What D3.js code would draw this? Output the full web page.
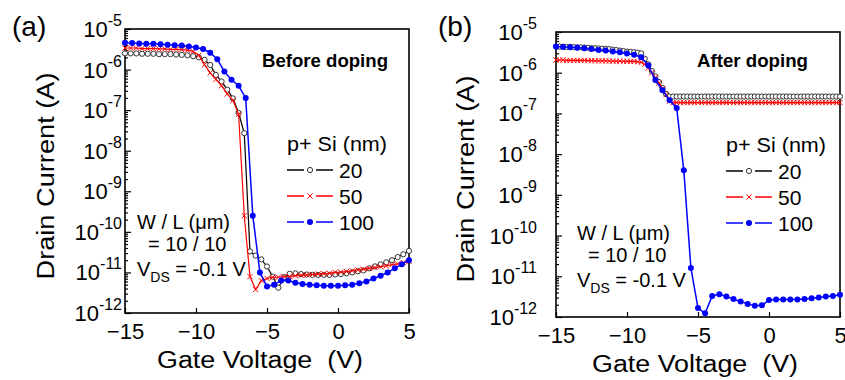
<!DOCTYPE html>
<html>
<head>
<meta charset="utf-8">
<script src="https://cdn.jsdelivr.net/npm/d3@7"></script>
<style>
  body { margin: 0; background: #fff; }
  svg { font-family: Arial, "Liberation Sans", sans-serif; }
</style>
</head>
<body>
<svg id="chart" width="845" height="380"></svg>
<script>
// gate voltage sweeps (V)
const vgFine = d3.range(-15, 5.001, 0.25);
const vgMid = d3.range(-15, 5.001, 0.4);
const vgCoarse = d3.range(-15, 5.001, 0.5);

const xTicks = [-15, -10, -5, 0, 5];
const yDecades = [1e-12, 1e-11, 1e-10, 1e-9, 1e-8, 1e-7, 1e-6, 1e-5];
const yTickExp = ['-12', '-11', '-10', '-9', '-8', '-7', '-6', '-5'];
const legendLabels = ['20', '50', '100'];

// (a) before doping, drain current (A)
const beforeI20 = [
  2.5e-6, 2.5e-6, 2.5e-6, 2.45e-6, 2.45e-6, 2.45e-6, 2.4e-6, 2.4e-6, 2.4e-6, 2.35e-6,
  2.3e-6, 2.24e-6, 2.14e-6, 2.0e-6, 1.74e-6, 1.3e-6, 7.4e-7, 5.1e-7, 3.2e-7, 1.95e-7,
  8.5e-8, 2.7e-8, 3.3e-11, 2.6e-11, 2.1e-11, 1.4e-11, 7.9e-12, 4.2e-12, 7.6e-12, 9.3e-12,
  9.5e-12, 9.1e-12, 8.9e-12, 8.7e-12, 8.7e-12, 8.7e-12, 8.7e-12, 8.9e-12, 9.1e-12, 9.5e-12,
  1.0e-11, 1.07e-11, 1.12e-11, 1.26e-11, 1.41e-11, 1.58e-11, 1.78e-11, 2.0e-11, 2.4e-11, 2.8e-11,
  3.4e-11
];
const beforeI50 = [
  3.4e-6, 3.4e-6, 3.4e-6, 3.3e-6, 3.3e-6, 3.3e-6, 3.24e-6, 3.24e-6, 3.16e-6, 3.16e-6,
  3.1e-6, 3.0e-6, 2.8e-6, 2.24e-6, 1.32e-6, 8.3e-7, 5.75e-7, 4.0e-7, 2.5e-7, 1.74e-7,
  7.9e-8, 2.5e-10, 7.9e-12, 3.8e-12, 6.3e-12, 7.1e-12, 7.6e-12, 7.6e-12, 7.9e-12, 7.9e-12,
  8.3e-12, 8.5e-12, 8.7e-12, 8.9e-12, 9.1e-12, 9.3e-12, 9.5e-12, 1.0e-11, 1.02e-11, 1.05e-11,
  1.1e-11, 1.15e-11, 1.2e-11, 1.26e-11, 1.32e-11, 1.38e-11, 1.45e-11, 1.55e-11, 1.62e-11, 1.74e-11,
  1.86e-11
];
const beforeI100 = [
  4.6e-6, 4.5e-6, 4.4e-6, 4.3e-6, 4.3e-6, 4.2e-6, 4.1e-6, 4.0e-6, 3.9e-6, 3.7e-6,
  3.5e-6, 3.2e-6, 2.6e-6, 1.8e-6, 8.9e-7, 5.6e-7, 4.0e-7, 2.0e-7, 2.5e-10, 1.0e-11,
  4.5e-12, 5.0e-12, 6.3e-12, 6.3e-12, 5.6e-12, 5.2e-12, 5.0e-12, 4.8e-12, 4.7e-12, 4.7e-12,
  4.7e-12, 4.8e-12, 5.0e-12, 5.4e-12, 6.0e-12, 7.1e-12, 8.3e-12, 1.0e-11, 1.26e-11, 1.6e-11,
  2.0e-11
];

// (b) after doping, drain current (A)
const afterI20 = [
  4.4e-6, 4.4e-6, 4.35e-6, 4.3e-6, 4.3e-6, 4.25e-6, 4.2e-6, 4.2e-6, 4.15e-6, 4.1e-6,
  4.0e-6, 4.0e-6, 3.95e-6, 3.9e-6, 3.85e-6, 3.8e-6, 3.7e-6, 3.6e-6, 3.5e-6, 3.4e-6,
  3.3e-6, 3.25e-6, 3.2e-6, 3.1e-6, 3.0e-6, 2.2e-6, 1.6e-6, 1.1e-6, 8.1e-7, 5.9e-7,
  4.2e-7, 3.0e-7, 2.6e-7, 2.6e-7, 2.6e-7, 2.6e-7, 2.6e-7, 2.6e-7, 2.6e-7, 2.6e-7,
  2.6e-7, 2.6e-7, 2.6e-7, 2.6e-7, 2.6e-7, 2.6e-7, 2.6e-7, 2.6e-7, 2.6e-7, 2.6e-7,
  2.6e-7, 2.6e-7, 2.6e-7, 2.6e-7, 2.6e-7, 2.6e-7, 2.6e-7, 2.6e-7, 2.6e-7, 2.6e-7,
  2.6e-7, 2.6e-7, 2.6e-7, 2.6e-7, 2.6e-7, 2.6e-7, 2.6e-7, 2.6e-7, 2.6e-7, 2.6e-7,
  2.6e-7, 2.6e-7, 2.6e-7, 2.6e-7, 2.6e-7, 2.6e-7, 2.6e-7, 2.6e-7, 2.6e-7, 2.6e-7,
  2.6e-7
];
const afterI50 = [
  2.05e-6, 2.05e-6, 2.05e-6, 2.0e-6, 2.0e-6, 2.0e-6, 2.0e-6, 2.0e-6, 2.0e-6, 1.98e-6,
  1.98e-6, 1.96e-6, 1.96e-6, 1.95e-6, 1.95e-6, 1.94e-6, 1.93e-6, 1.92e-6, 1.92e-6, 1.91e-6,
  1.9e-6, 1.9e-6, 1.9e-6, 1.85e-6, 1.8e-6, 1.6e-6, 1.3e-6, 1.0e-6, 7.6e-7, 5.5e-7,
  4.0e-7, 2.9e-7, 2.0e-7, 1.85e-7, 1.85e-7, 1.85e-7, 1.85e-7, 1.85e-7, 1.85e-7, 1.85e-7,
  1.85e-7, 1.85e-7, 1.85e-7, 1.85e-7, 1.85e-7, 1.85e-7, 1.85e-7, 1.85e-7, 1.85e-7, 1.85e-7,
  1.85e-7, 1.85e-7, 1.85e-7, 1.85e-7, 1.85e-7, 1.85e-7, 1.85e-7, 1.85e-7, 1.85e-7, 1.85e-7,
  1.85e-7, 1.85e-7, 1.85e-7, 1.85e-7, 1.85e-7, 1.85e-7, 1.85e-7, 1.85e-7, 1.85e-7, 1.85e-7,
  1.85e-7, 1.85e-7, 1.85e-7, 1.85e-7, 1.85e-7, 1.85e-7, 1.85e-7, 1.85e-7, 1.85e-7, 1.85e-7,
  1.85e-7
];
const afterI100 = [
  4.4e-6, 4.3e-6, 4.2e-6, 4.1e-6, 4.0e-6, 3.8e-6, 3.6e-6, 3.5e-6, 3.3e-6, 3.2e-6,
  2.95e-6, 2.75e-6, 2.4e-6, 1.5e-6, 6.6e-7, 3.7e-7, 2.1e-7, 1.35e-7, 4.0e-9, 1.6e-11,
  1.66e-12, 1.23e-12, 3.3e-12, 3.6e-12, 3.2e-12, 2.75e-12, 2.4e-12, 2.1e-12, 1.9e-12, 1.95e-12,
  2.6e-12, 2.7e-12, 2.7e-12, 2.7e-12, 2.7e-12, 2.75e-12, 2.9e-12, 3.0e-12, 3.2e-12, 3.3e-12,
  3.5e-12
];

const svg = d3.select('#chart');

const panels = [
  {
    tag: '(a)', title: 'Before doping', titleEnd: 388, titleLen: 126,
    left: 125, right: 409, top: 29, bottom: 313, labelGap: 3,
    yTitleX: 54, yTitleY: 176, xTitleX: 260,
    legendX: 287, legendY: 145, noteX: 137, noteY: 222,
    series: [
      { vg: vgMid, id: beforeI20, color: '#000', marker: 'open' },
      { vg: vgMid, id: beforeI50, color: '#ff0000', marker: 'x' },
      { vg: vgCoarse, id: beforeI100, color: '#0000ff', marker: 'dot' }
    ]
  },
  {
    tag: '(b)', title: 'After doping', titleEnd: 808, titleLen: 111,
    left: 556, right: 840, top: 32, bottom: 317, labelGap: 19,
    yTitleX: 474, yTitleY: 179, xTitleX: 695,
    legendX: 726, legendY: 146, noteX: 577, noteY: 233,
    series: [
      { vg: vgFine, id: afterI20, color: '#000', marker: 'open' },
      { vg: vgFine, id: afterI50, color: '#ff0000', marker: 'x' },
      { vg: vgCoarse, id: afterI100, color: '#0000ff', marker: 'dot' }
    ]
  }
];

function drawMarker(sel, kind, color) {
  if (kind === 'open') {
    sel.append('circle').attr('r', 2.6)
      .attr('fill', '#fff').attr('stroke', '#333').attr('stroke-width', 1);
  } else if (kind === 'x') {
    sel.append('path').attr('d', 'M-2.6,-2.6L2.6,2.6M-2.6,2.6L2.6,-2.6')
      .attr('stroke', color).attr('stroke-width', 1).attr('fill', 'none');
  } else {
    sel.append('circle').attr('r', 3).attr('fill', color);
  }
}

function drawPanel(p, ox) {
  const x = d3.scaleLinear().domain([-15, 5]).range([p.left, p.right]);
  const y = d3.scaleLog().domain([1e-12, 1e-5]).range([p.bottom, p.top]);
  const g = svg.append('g');

  // minor log ticks
  const minors = [];
  yDecades.slice(0, -1).forEach(d => d3.range(2, 10).forEach(m => minors.push(d * m)));
  g.append('g')
    .attr('transform', `translate(${p.left},0)`)
    .call(d3.axisLeft(y).tickValues(minors).tickSize(-3).tickFormat(''))
    .call(a => a.select('.domain').remove());
  g.append('g')
    .attr('transform', `translate(${p.left},0)`)
    .call(d3.axisLeft(y).tickValues(yDecades).tickSize(-6).tickFormat(''))
    .call(a => a.select('.domain').remove());
  g.selectAll('.tick line').attr('stroke', '#000').attr('stroke-width', 1.2);

  // y tick labels 10^n
  const lab = g.append('g').selectAll('text')
    .data(yDecades)
    .join('text')
    .attr('x', p.left - p.labelGap)
    .attr('y', d => y(d) + 8)
    .attr('text-anchor', 'end')
    .attr('font-size', 22)
    .attr('fill', '#000');
  lab.append('tspan').text('10');
  lab.append('tspan').attr('dy', -11).attr('font-size', 16).text((d, i) => yTickExp[i]);

  // x axis
  g.append('g')
    .attr('transform', `translate(0,${p.bottom})`)
    .call(d3.axisBottom(x).tickValues(xTicks).tickSize(-5).tickSizeOuter(0).tickPadding(10).tickFormat(d3.format('d')))
    .call(a => a.select('.domain').remove())
    .call(a => a.selectAll('.tick line').attr('stroke-width', 1.2))
    .call(a => a.selectAll('text').attr('font-size', 22).attr('font-family', null).attr('fill', '#000'));

  // frame
  g.append('rect')
    .attr('x', p.left).attr('y', p.top)
    .attr('width', p.right - p.left).attr('height', p.bottom - p.top)
    .attr('fill', 'none').attr('stroke', '#000').attr('stroke-width', 1.6);

  // curves
  const line = d3.line().x(d => x(d[0])).y(d => y(d[1]));
  p.series.forEach(s => {
    const pts = s.vg.map((v, i) => [v, s.id[i]]);
    g.append('path')
      .attr('d', line(pts))
      .attr('fill', 'none')
      .attr('stroke', s.color)
      .attr('stroke-width', s.marker === 'dot' ? 1.5 : 1.2);
    g.append('g').selectAll('g')
      .data(pts)
      .join('g')
      .attr('transform', d => `translate(${x(d[0])},${y(d[1])})`)
      .each(function () { drawMarker(d3.select(this), s.marker, s.color); });
  });

  // panel tag and title
  svg.append('text').attr('x', ox + 12).attr('y', 36).attr('font-size', 28).text(p.tag);
  svg.append('text')
    .attr('x', p.titleEnd - p.titleLen).attr('y', 67)
    .attr('font-size', 18).attr('font-weight', 'bold')
    .attr('textLength', p.titleLen).attr('lengthAdjust', 'spacingAndGlyphs')
    .text(p.title);

  // axis titles
  svg.append('text')
    .attr('transform', `translate(${p.yTitleX},${p.yTitleY}) rotate(-90)`)
    .attr('text-anchor', 'middle').attr('font-size', 23)
    .attr('textLength', 207).attr('lengthAdjust', 'spacingAndGlyphs')
    .text('Drain Current (A)');
  svg.append('text')
    .attr('x', p.xTitleX).attr('y', p.bottom + 55)
    .attr('text-anchor', 'middle').attr('font-size', 23)
    .attr('textLength', 206).attr('lengthAdjust', 'spacingAndGlyphs')
    .style('white-space', 'pre')
    .text('Gate Voltage  (V)');

  // legend
  svg.append('text').attr('x', p.legendX).attr('y', p.legendY + 6)
    .attr('font-size', 20).attr('textLength', 100).attr('lengthAdjust', 'spacingAndGlyphs')
    .text('p+ Si (nm)');
  p.series.forEach((s, i) => {
    const ly = p.legendY + 25 + i * 26;
    const lg = svg.append('g').attr('transform', `translate(${p.legendX},${ly})`);
    lg.append('line').attr('x1', 0).attr('x2', 17).attr('stroke', s.color).attr('stroke-width', 1.5);
    lg.append('line').attr('x1', 29).attr('x2', 46).attr('stroke', s.color).attr('stroke-width', 1.5);
    drawMarker(lg.append('g').attr('transform', 'translate(23,0)'), s.marker, s.color);
    lg.append('text').attr('x', 52).attr('y', 7.5).attr('font-size', 21).text(legendLabels[i]);
  });

  // device note
  const note = svg.append('g').attr('font-size', 20);
  note.append('text').attr('x', p.noteX).attr('y', p.noteY + 7).text('W / L (\u03bcm)');
  note.append('text').attr('x', p.noteX + 11).attr('y', p.noteY + 29).text('= 10 / 10');
  const vds = note.append('text').attr('x', p.noteX).attr('y', p.noteY + 54);
  vds.append('tspan').text('V');
  vds.append('tspan').attr('font-size', 14).attr('dy', 6).text('DS');
  vds.append('tspan').attr('dy', -6).text(' = -0.1 V');
}

drawPanel(panels[0], 0);
drawPanel(panels[1], 426);
</script>
</body>
</html>
